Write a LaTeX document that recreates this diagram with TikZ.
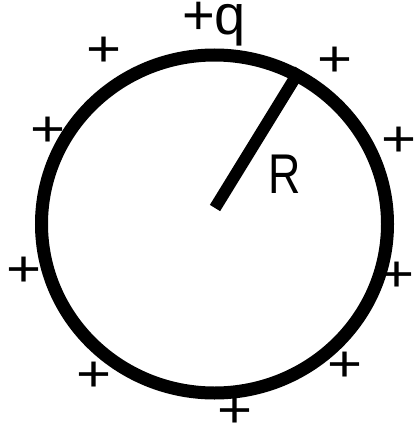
\documentclass[tikz,border=0pt]{standalone}
\usepackage{fontspec}
\setmainfont{Liberation Sans}
\usetikzlibrary{shapes.geometric}
\tikzset{
  plussign/.style={inner sep=0pt, font=\fontsize{60}{60}\selectfont},
  ringstyle/.style={draw=black, ellipse, line width=13pt, inner sep=0pt, minimum width=346pt, minimum height=338pt},
  radiusline/.style={draw=black, line width=12pt},
  biglabel/.style={inner sep=0pt, font=\fontsize{56}{56}\selectfont}
}
\newcommand{\pl}{\scalebox{1}[0.85]{+}}
\begin{document}
\begin{tikzpicture}[x=1pt,y=-1pt]
\useasboundingbox (0,0) rectangle (414,428);
\node[ringstyle] (ring) at (214.5,224) {};
\coordinate (o) at (215,208);
\draw[radiusline] (o) -- (ring.61);
\node[biglabel, anchor=base] (q) at (214,35) {+q};
\node[biglabel, anchor=base] (R) at (284.5,193) {\scalebox{0.8}[1]{R}};
\node[plussign] (p1) at (104,52) {\pl};
\node[plussign] (p2) at (335,62) {\pl};
\node[plussign] (p3) at (48,132) {\pl};
\node[plussign] (p4) at (399,142) {\pl};
\node[plussign] (p5) at (24,272) {\pl};
\node[plussign] (p6) at (397,277) {\pl};
\node[plussign] (p7) at (94,377) {\pl};
\node[plussign] (p8) at (345,367) {\pl};
\node[plussign] (p9) at (235,413) {\pl};
\end{tikzpicture}
\end{document}
